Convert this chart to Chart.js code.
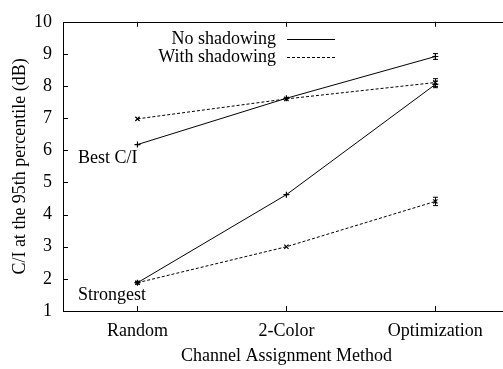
<!DOCTYPE html>
<html>
<head>
<meta charset="utf-8">
<script src="https://cdn.jsdelivr.net/npm/chart.js@4"></script>
<style>
  html, body { margin: 0; padding: 0; background: #fff; overflow: hidden; }
  #wrap { width: 503px; height: 369px; overflow: hidden; }
</style>
</head>
<body>
<div id="wrap"><canvas id="ciChart" width="515" height="369"></canvas></div>
<script>
// categories and values
const methods = ['Random', '2-Color', 'Optimization'];

const bestNoShadow = [6.18, 7.62, 8.92];
const bestNoShadowErr = [0, 0, 0.09];
const bestShadow = [6.98, 7.60, 8.11];
const bestShadowErr = [0, 0, 0.12];

const strongNoShadow = [1.88, 4.62, 8.05];
const strongNoShadowErr = [0.04, 0, 0.10];
const strongShadow = [1.88, 3.00, 4.41];
const strongShadowErr = [0, 0, 0.13];

const yTicks = [1, 2, 3, 4, 5, 6, 7, 8, 9, 10];

const legendItems = ['No shadowing', 'With shadowing'];
const groupLabels = [
  { text: 'Best C/I', y: 5.75 },
  { text: 'Strongest', y: 1.49 }
];

const FONT = "'Liberation Serif', 'Times New Roman', serif";
const ink = '#000';
const dash = [3, 2];

function series(data, err, dashed) {
  return {
    data: data,
    errors: err,
    borderColor: ink,
    backgroundColor: ink,
    borderWidth: 1,
    borderDash: dashed ? dash : [],
    pointStyle: dashed ? 'crossRot' : 'cross',
    pointRadius: 3,
    pointBorderWidth: 1.2,
    pointBorderColor: ink,
    fill: false,
    tension: 0
  };
}

// frame, inward ticks, error bars, legend and group labels
const gnuplotLook = {
  id: 'gnuplotLook',
  afterDatasetsDraw(chart) {
    const { ctx, chartArea: a, scales: { x, y } } = chart;
    ctx.save();
    ctx.strokeStyle = ink;
    ctx.lineWidth = 1;

    // frame
    ctx.strokeRect(Math.round(a.left) + 0.5, Math.round(a.top) + 0.5,
      Math.round(a.right - a.left), Math.round(a.bottom - a.top));

    // inward ticks
    ctx.beginPath();
    yTicks.forEach(v => {
      if (v === yTicks[0] || v === yTicks[yTicks.length - 1]) return;
      const py = Math.round(y.getPixelForValue(v)) + 0.5;
      ctx.moveTo(a.left, py); ctx.lineTo(a.left + 5, py);
      ctx.moveTo(a.right, py); ctx.lineTo(a.right - 5, py);
    });
    methods.forEach((m, i) => {
      const px = Math.round(x.getPixelForValue(i)) + 0.5;
      ctx.moveTo(px, a.bottom); ctx.lineTo(px, a.bottom - 5);
      ctx.moveTo(px, a.top); ctx.lineTo(px, a.top + 5);
    });
    ctx.stroke();

    // error bars
    chart.data.datasets.forEach(ds => {
      ds.data.forEach((v, i) => {
        const e = ds.errors[i];
        if (!e) return;
        const px = Math.round(x.getPixelForValue(i)) + 0.5;
        const y1 = y.getPixelForValue(v - e);
        const y2 = y.getPixelForValue(v + e);
        ctx.beginPath();
        ctx.moveTo(px, y1); ctx.lineTo(px, y2);
        ctx.moveTo(px - 2.5, y1); ctx.lineTo(px + 2.5, y1);
        ctx.moveTo(px - 2.5, y2); ctx.lineTo(px + 2.5, y2);
        ctx.stroke();
      });
    });

    // legend (text on the left, sample on the right)
    ctx.font = '18px ' + FONT;
    ctx.fillStyle = ink;
    ctx.textAlign = 'right';
    ctx.textBaseline = 'middle';
    legendItems.forEach((t, i) => {
      const ly = a.top + 17 + i * 18;
      ctx.fillText(t, a.left + 213, ly);
      ctx.beginPath();
      ctx.setLineDash(i === 0 ? [] : dash);
      ctx.moveTo(a.left + 224, Math.round(ly) + 0.5);
      ctx.lineTo(a.left + 272, Math.round(ly) + 0.5);
      ctx.stroke();
      ctx.setLineDash([]);
    });

    // group labels
    ctx.textAlign = 'left';
    groupLabels.forEach(g => {
      ctx.fillText(g.text, a.left + 15, y.getPixelForValue(g.y));
    });
    ctx.restore();
  }
};

new Chart(document.getElementById('ciChart'), {
  type: 'line',
  data: {
    labels: methods,
    datasets: [
      series(bestNoShadow, bestNoShadowErr, false),
      series(bestShadow, bestShadowErr, true),
      series(strongNoShadow, strongNoShadowErr, false),
      series(strongShadow, strongShadowErr, true)
    ]
  },
  options: {
    responsive: false,
    animation: false,
    devicePixelRatio: 1,
    layout: { padding: { top: 8, right: 3, left: 0, bottom: 0 } },
    plugins: { legend: { display: false }, tooltip: { enabled: false } },
    scales: {
      x: {
        type: 'category',
        offset: true,
        grid: { display: false, drawTicks: false },
        border: { display: false },
        ticks: { color: ink, font: { family: FONT, size: 18 }, padding: 9, maxRotation: 0 },
        title: {
          display: true, text: 'Channel Assignment Method', color: ink,
          font: { family: FONT, size: 18 }, padding: { top: 0, bottom: 2 }
        },
        afterFit(s) { s.height = 58; }
      },
      y: {
        min: 1, max: 10,
        grid: { display: false, drawTicks: false },
        border: { display: false },
        ticks: { stepSize: 1, color: ink, font: { family: FONT, size: 18 }, padding: 11 },
        title: {
          display: true, text: 'C/I at the 95th percentile (dB)', color: ink,
          font: { family: FONT, size: 18 }, padding: { top: 9, bottom: 0 }
        },
        afterFit(s) { s.width = 63; }
      }
    }
  },
  plugins: [gnuplotLook]
});
</script>
</body>
</html>
